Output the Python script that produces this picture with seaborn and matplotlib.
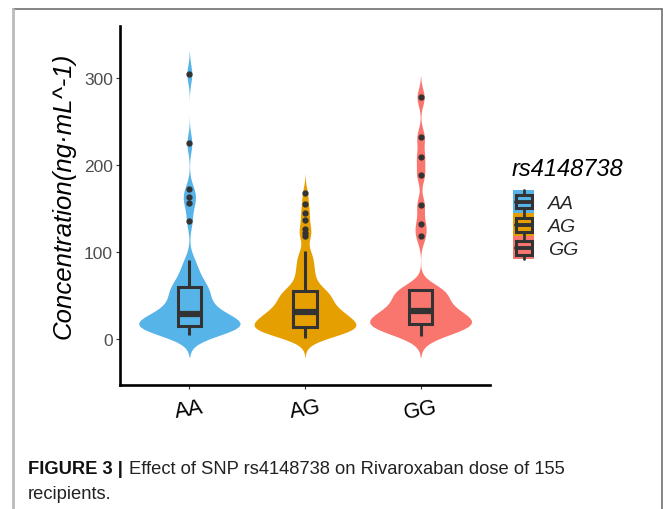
import numpy as np
import pandas as pd
import matplotlib
matplotlib.use("Agg")
import matplotlib.pyplot as plt
import seaborn as sns
from matplotlib.lines import Line2D
from matplotlib.patches import Patch, Rectangle
from matplotlib.legend_handler import HandlerBase

# genotype groups and colours
genotypes = ["AA", "AG", "GG"]
colours = ["#56B4E9", "#E69F00", "#F8766D"]

# concentrations (ng/mL), 155 recipients in total
aa_values = [5, 7, 9, 10, 11, 12, 13, 13, 14, 14, 14, 15, 16, 17, 18, 19, 20, 21,
             22, 24, 26, 27, 28, 30, 32, 35, 38, 41, 44, 47, 51, 54, 57, 58, 60,
             65, 70, 76, 83, 91, 136, 156, 163, 172, 225, 305]
ag_values = [1, 3, 5, 6, 7, 8, 9, 9, 10, 10, 11, 11, 12, 12, 13, 13, 14, 14, 14,
             15, 16, 17, 18, 19, 20, 21, 22, 22, 23, 24, 25, 26, 27, 28, 29, 29, 30,
             31, 32, 33, 35, 36, 38, 39, 41, 42, 44, 45, 47, 48, 50, 51, 53, 54, 55,
             55, 58, 62, 66, 70, 74, 78, 82, 87, 92, 96, 101,
             118, 122, 126, 137, 145, 155, 168]
gg_values = [3, 6, 9, 11, 13, 14, 15, 16, 17, 18, 20, 21, 23, 24, 26, 28, 30, 32,
             34, 37, 40, 43, 47, 51, 54, 56, 57, 58,
             118, 132, 154, 189, 209, 232, 278]

caption_bold = "FIGURE 3 |"
caption_line1 = "Effect of SNP rs4148738 on Rivaroxaban dose of 155"
caption_line2 = "recipients."


def nrd0(kde):
    # R style bandwidth (what ggplot uses for violins)
    x = kde.dataset[0]
    sd = x.std(ddof=1)
    q75, q25 = np.percentile(x, [75, 25])
    lo = min(sd, (q75 - q25) / 1.34)
    return 0.9 * lo * len(x) ** -0.2 / sd


class BoxKey(HandlerBase):
    def create_artists(self, legend, orig_handle, xdescent, ydescent,
                       width, height, fontsize, trans):
        c = orig_handle.get_facecolor()
        x0, y0 = -xdescent, -ydescent
        bg = Rectangle((x0, y0), width, height, facecolor=c, edgecolor="none",
                       transform=trans)
        box = Rectangle((x0 + 0.12 * width, y0 + 0.2 * height), 0.76 * width,
                        0.6 * height, facecolor=c, edgecolor="#333333",
                        linewidth=2.2, transform=trans)
        med = Line2D([x0 + 0.12 * width, x0 + 0.88 * width],
                     [y0 + 0.5 * height] * 2, color="#333333", lw=2.8,
                     transform=trans)
        wt = Line2D([x0 + width / 2] * 2, [y0 + 0.8 * height, y0 + height],
                    color="#333333", lw=2, transform=trans)
        wb = Line2D([x0 + width / 2] * 2, [y0, y0 + 0.2 * height],
                    color="#333333", lw=2, transform=trans)
        return [bg, box, med, wt, wb]


def main():
    df = pd.DataFrame({
        "genotype": ["AA"] * len(aa_values) + ["AG"] * len(ag_values) + ["GG"] * len(gg_values),
        "conc": aa_values + ag_values + gg_values,
    })
    palette = dict(zip(genotypes, colours))

    sns.set_theme(style="white")
    plt.rcParams["font.family"] = ["Liberation Sans", "DejaVu Sans"]

    fig = plt.figure(figsize=(6.63, 5.10), dpi=100)
    ax = fig.add_axes([0.181, 0.243, 0.558, 0.704])

    sns.violinplot(data=df, x="genotype", y="conc", hue="genotype", order=genotypes,
                   hue_order=genotypes, palette=palette, inner=None, linewidth=0,
                   cut=2.5, bw_method=nrd0, bw_adjust=0.75, density_norm="width",
                   width=0.88, saturation=1, legend=False, ax=ax)
    sns.boxplot(data=df, x="genotype", y="conc", hue="genotype", order=genotypes,
                hue_order=genotypes, palette=palette, width=0.2, dodge=False,
                saturation=1, linecolor="#333333", linewidth=2.2, fliersize=3.5,
                flierprops=dict(marker="o", markerfacecolor="#333333",
                                markeredgecolor="#333333"),
                medianprops=dict(linewidth=4.5), capprops=dict(linewidth=0),
                legend=False, ax=ax)

    ax.set_xlim(-0.6, 2.6)
    ax.set_ylim(-53, 360)
    ax.set_yticks([0, 100, 200, 300])
    ax.set_xlabel("")
    ax.set_ylabel("Concentration(ng·mL^-1)", fontsize=18.5, style="italic", color="black")
    ax.yaxis.label.set_va("center")
    ax.yaxis.set_label_coords(-0.152, 0.53)

    for side in ["top", "right"]:
        ax.spines[side].set_visible(False)
    for side in ["left", "bottom"]:
        ax.spines[side].set_color("black")
        ax.spines[side].set_linewidth(1.9)
    ax.tick_params(axis="y", length=3, width=0.8, color="#333333",
                   labelsize=12.5, labelcolor="#4D4D4D", pad=2, left=True)
    ax.tick_params(axis="x", length=3, width=0.8, color="#333333",
                   labelsize=15.5, labelcolor="black", pad=5, bottom=True)
    for lab in ax.get_xticklabels():
        lab.set_rotation(10)

    # legend: title drawn separately so the gap under it matches
    fig.text(512 / 663, 1 - 170 / 510, "rs4148738", fontsize=17, style="italic",
             va="center", ha="left", color="black")
    handles = [Patch(facecolor=c) for c in colours]
    ax.legend(handles, genotypes, loc="upper left",
              bbox_to_anchor=(513 / 663, 1 - 191 / 510),
              bbox_transform=fig.transFigure, frameon=False,
              handler_map={Patch: BoxKey()}, handlelength=1.1,
              handleheight=1.45, handletextpad=0.7, labelspacing=0.0,
              prop={"style": "italic", "size": 14},
              borderaxespad=0, borderpad=0)

    # page frame around the figure
    fig.add_artist(Line2D([13 / 663, 661.5 / 663], [1 - 9.5 / 510] * 2,
                          transform=fig.transFigure, color="#707070", lw=1.2))
    fig.add_artist(Line2D([661.5 / 663] * 2, [0, 1 - 9.5 / 510],
                          transform=fig.transFigure, color="#707070", lw=1.2))
    fig.add_artist(Line2D([13 / 663] * 2, [0, 1 - 9.5 / 510],
                          transform=fig.transFigure, color="#BBBBBB", lw=2))

    # caption
    r = fig.canvas.get_renderer()
    t = fig.text(28 / 663, 1 - 474 / 510, caption_bold, fontsize=13.2,
                 weight="bold", color="#111111")
    bb = t.get_window_extent(r)
    fig.text((bb.x1 + 6) / 663, 1 - 474 / 510, caption_line1, fontsize=13.2,
             color="#222222")
    fig.text(28 / 663, 1 - 499 / 510, caption_line2, fontsize=13.2,
             color="#222222")

    fig.savefig("out.png", dpi=100)
    plt.close(fig)


if __name__ == "__main__":
    main()
